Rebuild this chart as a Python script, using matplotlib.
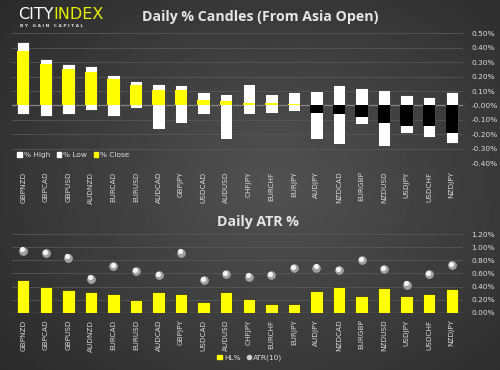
import numpy as np
import matplotlib
matplotlib.use("Agg")
import matplotlib.pyplot as plt
from matplotlib.lines import Line2D
from matplotlib.patches import Patch

pairs = ["GBPNZD", "GBPCAD", "GBPUSD", "AUDNZD", "EURCAD", "EURUSD", "AUDCAD",
         "GBPJPY", "USDCAD", "AUDUSD", "CHFJPY", "EURCHF", "EURJPY", "AUDJPY",
         "NZDCAD", "EURGBP", "NZDUSD", "USDJPY", "USDCHF", "NZDJPY"]

# daily candles from Asia open, in %
pct_high = [0.44, 0.32, 0.29, 0.27, 0.21, 0.17, 0.15, 0.14, 0.09, 0.08,
            0.15, 0.08, 0.09, 0.10, 0.14, 0.12, 0.11, 0.07, 0.06, 0.09]
pct_low = [-0.06, -0.07, -0.06, -0.03, -0.07, -0.02, -0.16, -0.12, -0.06, -0.23,
           -0.06, -0.05, -0.04, -0.23, -0.27, -0.13, -0.28, -0.19, -0.22, -0.26]
pct_close = [0.38, 0.29, 0.25, 0.23, 0.18, 0.14, 0.11, 0.11, 0.04, 0.03,
             0.02, 0.015, 0.01, -0.05, -0.06, -0.08, -0.12, -0.14, -0.14, -0.19]

# daily ATR chart, in %
hl_pct = [0.50, 0.40, 0.35, 0.32, 0.29, 0.19, 0.32, 0.28, 0.17, 0.32,
          0.21, 0.13, 0.13, 0.33, 0.40, 0.26, 0.38, 0.26, 0.28, 0.36]
atr10 = [0.95, 0.91, 0.84, 0.52, 0.71, 0.63, 0.57, 0.92, 0.50, 0.59,
         0.55, 0.57, 0.68, 0.69, 0.65, 0.80, 0.67, 0.43, 0.59, 0.73]

YELLOW = "#ffff00"
TXT = "#dcdcdc"
GRID = "#575757"

fig = plt.figure(figsize=(5.0, 3.7), dpi=100)

# radial dark-grey background
bg = fig.add_axes([0, 0, 1, 1], zorder=-10)
yy, xx = np.mgrid[0:1:370j, 0:1:500j]
r = np.sqrt(((xx - 0.55) / 0.75) ** 2 + ((yy - 0.5) / 0.8) ** 2)
shade = np.clip(0.32 - 0.16 * r, 0.15, 0.35)
bg.imshow(shade, cmap="gray", vmin=0, vmax=1, aspect="auto",
          extent=[0, 1, 0, 1], origin="lower")
bg.axis("off")

x = np.arange(len(pairs))


def style_axes(ax, ticks, fmt):
    ax.set_facecolor("none")
    for s in ax.spines.values():
        s.set_visible(False)
    ax.set_xlim(-0.5, len(pairs) - 0.5)
    ax.set_xticks(x)
    ax.set_xticklabels(pairs, rotation=90, fontsize=5.2, color=TXT)
    ax.yaxis.tick_right()
    ax.set_yticks(ticks)
    ax.set_yticklabels([fmt % t for t in ticks], fontsize=5.3, color=TXT)
    ax.tick_params(length=0, pad=6)
    for t in ticks:
        ax.axhline(t, color="#858585" if abs(t) < 1e-9 else GRID,
                   lw=0.9 if abs(t) < 1e-9 else 0.6, zorder=0)


# top: candles
ax1 = fig.add_axes([0.024, 0.559, 0.902, 0.351])
high = np.array(pct_high)
low = np.array(pct_low)
close = np.array(pct_close)
ax1.bar(x, high - low, bottom=low, width=0.55, color="white",
        edgecolor="#222222", lw=0.5, zorder=2)
close_col = [YELLOW if c >= 0 else "black" for c in close]
ax1.bar(x, close, width=0.55, color=close_col, zorder=3)
ax1.set_ylim(-0.4, 0.5)
style_axes(ax1, np.round(np.arange(-0.4, 0.51, 0.1), 2), "%.2f%%")
ax1.legend(handles=[Patch(color="white", label="% High"),
                    Patch(color="white", label="% Low"),
                    Patch(color=YELLOW, label="% Close")],
           loc="lower left", bbox_to_anchor=(0.0, 0.0), ncol=3, frameon=False,
           fontsize=5.3, labelcolor=TXT, handlelength=0.6, handleheight=0.6,
           handletextpad=0.3, columnspacing=0.9, borderaxespad=0.3)

# bottom: ATR
ax2 = fig.add_axes([0.024, 0.155, 0.902, 0.212])
ax2.bar(x, hl_pct, width=0.55, color=YELLOW, edgecolor="#222222", lw=0.5, zorder=2)
ax2.scatter(x, atr10, s=46, color="#a0a0a0", edgecolor="#333333", lw=0.4, zorder=3)
ax2.scatter(x - 0.04, np.array(atr10) + 0.02, s=14, color="#f4f4f4", lw=0, zorder=4)
ax2.set_ylim(0, 1.2)
style_axes(ax2, np.round(np.arange(0, 1.21, 0.2), 2), "%.2f%%")
ax2.tick_params(axis="x", pad=5)
fig.legend(handles=[Patch(color=YELLOW, label="HL%"),
                    Line2D([], [], marker="o", ls="", color="#cfcfcf",
                           markersize=3, label="ATR(10)")],
           loc="center", bbox_to_anchor=(0.5, 0.033), ncol=2, frameon=False,
           fontsize=5.3, labelcolor=TXT, handlelength=0.6, handleheight=0.6,
           handletextpad=0.3, columnspacing=0.8)

# titles and logo
fig.text(0.52, 0.953, "Daily % Candles (From Asia Open)", ha="center", va="center",
         fontsize=10.2, fontweight="bold", color="#e6e6e6", family="Open Sans")
fig.text(0.515, 0.4, "Daily ATR %", ha="center", va="center",
         fontsize=10.2, fontweight="bold", color="#e6e6e6", family="Open Sans")
fig.text(0.036, 0.962, "CITY", ha="left", va="center", fontsize=11.5,
         color="white", family="Liberation Sans Narrow")
fig.text(0.107, 0.962, "INDEX", ha="left", va="center", fontsize=11.5,
         color="#e8f000", family="Liberation Sans Narrow")
fig.text(0.04, 0.93, "B Y   G A I N   C A P I T A L", ha="left", va="center",
         fontsize=3.2, color="#dddddd", fontweight="bold")

fig.savefig("out.png", dpi=100)
